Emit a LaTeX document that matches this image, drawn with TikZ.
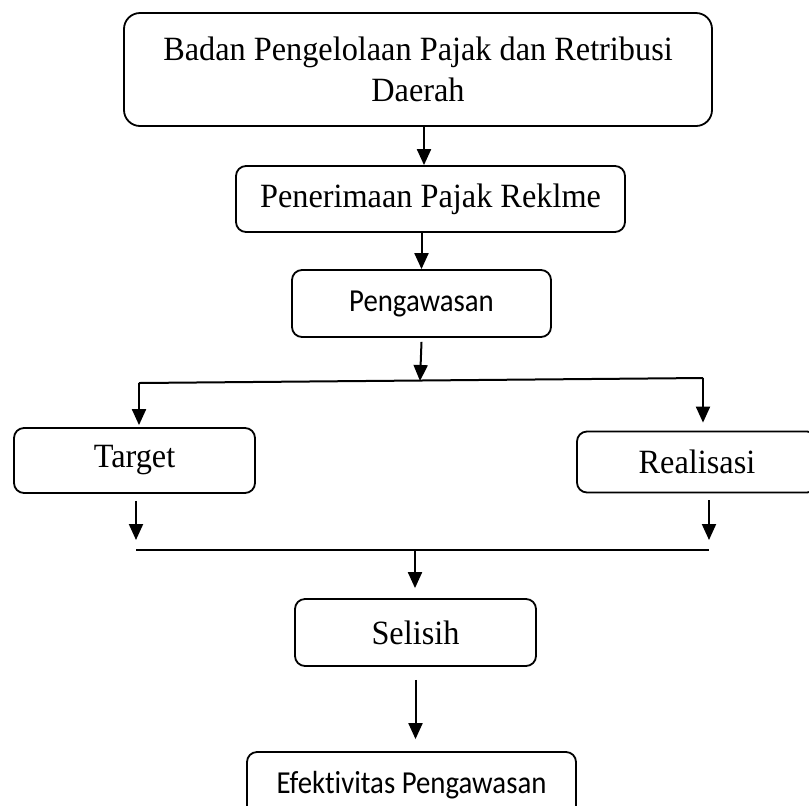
\documentclass[tikz,border=0pt]{standalone}
\usepackage{fontspec}
\setmainfont{Liberation Serif}[FakeStretch = 0.95]
\newfontfamily\boxsans{Carlito}[FakeStretch = 0.9, Ligatures = NoCommon]
\usepackage{tikz}
\usetikzlibrary{arrows.meta}
\usetikzlibrary{positioning}
\tikzset{box/.style = {draw, rounded corners = 5, line width = 0.9pt, align = center, font = \fontsize{17}{20.5}\selectfont}}
\tikzset{sansbox/.style = {box, font = \boxsans\fontsize{16}{19}\selectfont}}
\tikzset{arr/.style = {-{Triangle[length = 8pt, width = 7pt]}, line width = 1pt}}

\begin{document}
\begin{tikzpicture}[x = 0.5pt, y = -0.5pt]
    \useasboundingbox (0, 0) rectangle (809, 805);

    \node [box, rounded corners = 8, minimum width = 294pt, minimum height = 56.5pt] (badan) at (418, 69.5) {Badan Pengelolaan Pajak dan Retribusi\\Daerah};
    \node [box, minimum width = 194.5pt, minimum height = 33pt] (terima) at (430.5, 199) {Penerimaan Pajak Reklme};
    \node [sansbox, minimum width = 129.5pt, minimum height = 33.5pt] (awas) at (421.5, 303.5) {Pengawasan};

    \node [box, minimum width = 120.5pt, minimum height = 32.5pt] (target) at (134.5, 460.5) {Target};
    \node [box, minimum width = 120pt, minimum height = 30.5pt] (real) at (697, 462) {Realisasi};

    \node [box, minimum width = 120.5pt, minimum height = 33.5pt] (selisih) at (415.5, 632.5) {Selisih};
    \node [sansbox, minimum width = 164.5pt, minimum height = 33pt] (efek) at (411.5, 785) {Efektivitas Pengawasan};

    \coordinate (splitL) at (139, 383);
    \coordinate (split) at (420, 381);
    \coordinate (splitR) at (703, 378);
    \coordinate (joinL) at (136, 550);
    \coordinate (joinM) at (415, 550);
    \coordinate (joinR) at (709, 550);

    \draw [arr] ([xshift = 3pt]badan.south) -- ([xshift = 3pt]badan.south |- terima.north);
    \draw [arr] (awas.north |- terima.south) -- (awas.north);
    \draw [arr] ([yshift = -2pt]awas.south) -- (split);

    \draw [line width = 1pt] (splitL) -- (splitR);
    \draw [arr] (splitL) -- ([yshift = 1pt]splitL |- target.north);
    \draw [arr] (splitR) -- ([yshift = 4pt]splitR |- real.north);

    \draw [arr] ([yshift = -3.5pt]joinL |- target.south) -- ([yshift = 5pt]joinL);
    \draw [arr] ([yshift = -3.5pt]joinR |- real.south) -- ([yshift = 5pt]joinR);
    \draw [line width = 1pt] (joinL) -- (joinR);

    \draw [arr] (joinM) -- ([yshift = 5pt]joinM |- selisih.north);
    \draw [arr] ([yshift = -6.5pt]selisih.south) -- ([yshift = 6pt]selisih.south |- efek.north);
\end{tikzpicture}
\end{document}
